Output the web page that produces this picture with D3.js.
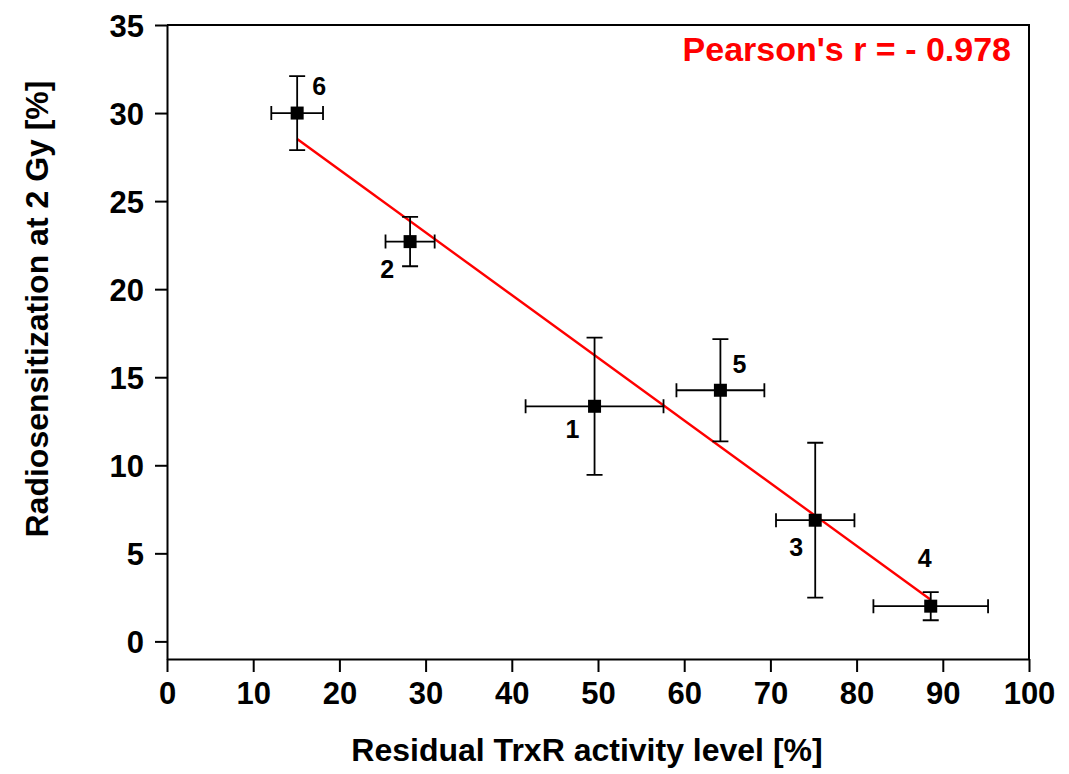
<!DOCTYPE html>
<html>
<head>
<meta charset="utf-8">
<script src="https://cdn.jsdelivr.net/npm/d3@7"></script>
<style>
  body { margin: 0; background: #fff; }
  svg { display: block; font-family: Arial, "Liberation Sans", sans-serif; }
</style>
</head>
<body>
<svg id="chart"></svg>
<script>
// cell line labels and measured values
var labels   = ["1", "2", "3", "4", "5", "6"]
var trxr     = [49.6, 28.2, 75.2, 88.6, 64.2, 15.1]   // residual TrxR activity [%]
var trxrErr  = [8.0, 2.85, 4.55, 6.65, 5.1, 3.0]
var radio    = [13.35, 22.7, 6.88, 2.0, 14.26, 30.0]  // radiosensitization at 2 Gy [%]
var radioErr = [3.9, 1.4, 4.4, 0.8, 2.9, 2.1]
var xTicks = [0, 10, 20, 30, 40, 50, 60, 70, 80, 90, 100]
var yTicks = [0, 5, 10, 15, 20, 25, 30, 35]
var pearsonText = "Pearson's r = - 0.978"

// where each number label sits relative to its point (px)
var labelOffset = {
  "1": [-22, 32], "2": [-23, 36], "3": [-19, 36],
  "4": [-6, -39], "5": [19, -17], "6": [22, -18]
}

var width = 1069
var height = 774
var margin = {left: 167, right: 40, top: 25, bottom: 115}

var svg = d3.select("#chart")
    .attr("width", width)
    .attr("height", height)

var x = d3.scaleLinear().domain([0, 100]).range([margin.left, width - margin.right])
var y = d3.scaleLinear().domain([-1, 35]).range([height - margin.bottom, margin.top])

var points = labels.map(function(l, i) {
  return {label: l, x: trxr[i], xe: trxrErr[i], y: radio[i], ye: radioErr[i]}
})

// least squares fit
var mx = d3.mean(trxr), my = d3.mean(radio)
var sxy = d3.sum(points, function(d) { return (d.x - mx) * (d.y - my) })
var sxx = d3.sum(points, function(d) { return (d.x - mx) * (d.x - mx) })
var slope = sxy / sxx
var intercept = my - slope * mx
var xMin = d3.min(trxr), xMax = d3.max(trxr)

var fontTick = "bold 31px Arial, 'Liberation Sans', sans-serif"

// frame (top + right)
svg.append("path")
    .attr("d", "M" + x(0) + "," + y(35) + "H" + x(100) + "V" + y(-1))
    .attr("fill", "none")
    .attr("stroke", "#000")
    .attr("stroke-width", 2)

// x axis
var xAxis = svg.append("g")
    .attr("transform", "translate(0," + y(-1) + ")")
    .call(d3.axisBottom(x).tickValues(xTicks).tickSize(13).tickPadding(8).tickSizeOuter(0))
xAxis.select(".domain").attr("stroke-width", 2)
xAxis.selectAll(".tick line").attr("stroke-width", 2)
xAxis.selectAll(".tick text")
    .style("font", fontTick)
    .attr("fill", "#000")
    .attr("dy", "0.76em")

// y axis
var yAxis = svg.append("g")
    .attr("transform", "translate(" + x(0) + ",0)")
    .call(d3.axisLeft(y).tickValues(yTicks).tickSize(12).tickPadding(11).tickSizeOuter(0))
yAxis.select(".domain").attr("stroke-width", 2)
yAxis.selectAll(".tick line").attr("stroke-width", 2)
yAxis.selectAll(".tick text")
    .style("font", fontTick)
    .attr("fill", "#000")
    .attr("dy", "0.36em")

// regression line
svg.append("line")
    .attr("x1", x(xMin)).attr("y1", y(intercept + slope * xMin))
    .attr("x2", x(xMax)).attr("y2", y(intercept + slope * xMax))
    .attr("stroke", "#ff0000")
    .attr("stroke-width", 2.4)

// error bars
var cap = 7
var err = svg.append("g").attr("class", "errors")
    .attr("stroke", "#000")
    .attr("stroke-width", 1.8)
    .attr("fill", "none")
    .selectAll("path")
    .data(points)
    .enter().append("path")
    .attr("d", function(d) {
      var cx = x(d.x), cy = y(d.y)
      var x0 = x(d.x - d.xe), x1 = x(d.x + d.xe)
      var y0 = y(d.y - d.ye), y1 = y(d.y + d.ye)
      return "M" + x0 + "," + cy + "H" + x1 +
             "M" + x0 + "," + (cy - cap) + "V" + (cy + cap) +
             "M" + x1 + "," + (cy - cap) + "V" + (cy + cap) +
             "M" + cx + "," + y0 + "V" + y1 +
             "M" + (cx - cap - 1) + "," + y0 + "H" + (cx + cap + 1) +
             "M" + (cx - cap - 1) + "," + y1 + "H" + (cx + cap + 1)
    })

// markers
var sq = 13
svg.append("g").selectAll("rect")
    .data(points)
    .enter().append("rect")
    .attr("x", function(d) { return x(d.x) - sq / 2 })
    .attr("y", function(d) { return y(d.y) - sq / 2 })
    .attr("width", sq)
    .attr("height", sq)
    .attr("fill", "#000")

// point labels
svg.append("g").selectAll("text")
    .data(points)
    .enter().append("text")
    .attr("x", function(d) { return x(d.x) + labelOffset[d.label][0] })
    .attr("y", function(d) { return y(d.y) + labelOffset[d.label][1] })
    .attr("text-anchor", "middle")
    .style("font", "bold 25px Arial, 'Liberation Sans', sans-serif")
    .text(function(d) { return d.label })

// pearson
svg.append("text")
    .attr("x", 1011)
    .attr("y", 61)
    .attr("text-anchor", "end")
    .attr("fill", "#ff0000")
    .style("font", "bold 34px Arial, 'Liberation Sans', sans-serif")
    .text(pearsonText)

// axis titles
svg.append("text")
    .attr("x", 587)
    .attr("y", 761)
    .attr("text-anchor", "middle")
    .style("font", "bold 32px Arial, 'Liberation Sans', sans-serif")
    .text("Residual TrxR activity level [%]")

svg.append("text")
    .attr("transform", "translate(48,309) rotate(-90)")
    .attr("text-anchor", "middle")
    .style("font", "bold 32px Arial, 'Liberation Sans', sans-serif")
    .text("Radiosensitization at 2 Gy [%]")
</script>
</body>
</html>
